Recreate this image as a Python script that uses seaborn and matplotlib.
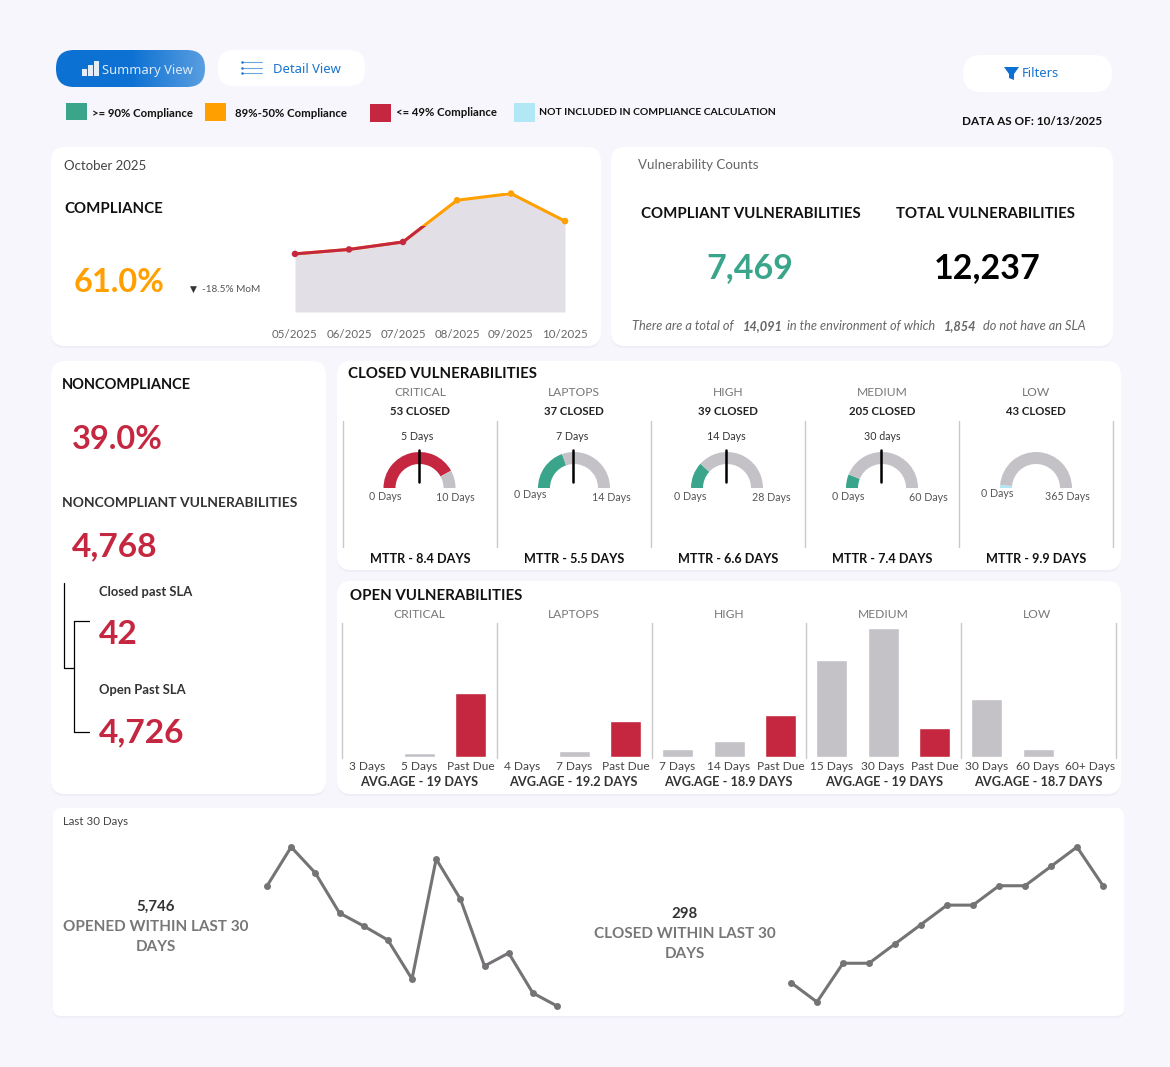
import numpy as np
import pandas as pd
import matplotlib
matplotlib.use("Agg")
import matplotlib.pyplot as plt
from matplotlib.patches import FancyBboxPatch, Rectangle, Polygon
import seaborn as sns

GREEN, ORANGE, RED = "#3BA58B", "#FF9F00", "#C4273F"
GRAY, LBLUE, BG = "#C4C2C7", "#B2E8F5", "#F6F6FC"
FONT = "Lato"
W, H = 1170, 1067

months = ["05/2025", "06/2025", "07/2025", "08/2025", "09/2025", "10/2025"]
compliance = [39, 42, 47, 75, 79.5, 61]

gauge_names = ["CRITICAL", "LAPTOPS", "HIGH", "MEDIUM", "LOW"]
gauge_closed = [53, 37, 39, 205, 43]
gauge_mttr = [8.4, 5.5, 6.6, 7.4, 9.9]
gauge_max = [10, 14, 28, 60, 365]
gauge_target = [5, 7, 14, 30, None]
gauge_target_text = ["5 Days", "7 Days", "14 Days", "30 days", ""]
gauge_colors = [RED, GREEN, GREEN, GREEN, LBLUE]

open_days = [["3 Days", "5 Days", "Past Due"], ["4 Days", "7 Days", "Past Due"],
             ["7 Days", "14 Days", "Past Due"], ["15 Days", "30 Days", "Past Due"],
             ["30 Days", "60 Days", "60+ Days"]]
open_counts = [[0, 3, 63], [0, 5, 35], [7, 15, 41], [96, 128, 28], [57, 7, 0]]
open_age = ["19", "19.2", "18.9", "19", "18.7"]

opened_30 = [560, 677, 599, 479, 440, 398, 281, 641, 521, 320, 359, 239, 200]
closed_30 = [19, 18, 20, 20, 21, 22, 23, 23, 24, 24, 25, 26, 24]

sns.set_theme(style="white")
plt.rcParams["font.family"] = [FONT, "DejaVu Sans"]
fig = plt.figure(figsize=(W / 100, H / 100), dpi=100, facecolor=BG)
base = fig.add_axes([0, 0, 1, 1], zorder=0)
base.set_xlim(0, W); base.set_ylim(H, 0); base.axis("off")


def px_axes(x0, y0, x1, y1):
    ax = fig.add_axes([x0 / W, 1 - y1 / H, (x1 - x0) / W, (y1 - y0) / H], zorder=2)
    ax.patch.set_alpha(0)
    sns.despine(ax=ax, left=True, bottom=True)
    return ax


def T(x, y, s, px=12, color="#333333", ha="left", weight="normal", style="normal", family=None):
    base.text(x, y + 1.2, s, fontsize=px * 0.72, color=color, ha=ha, va="center", fontweight=weight,
              fontstyle=style, family=family or [FONT, "DejaVu Sans"])


def card(x0, y0, x1, y1, r=14, fc="white", shadow=True):
    if shadow:
        base.add_patch(FancyBboxPatch((x0 + r, y0 + r + 2), x1 - x0 - 2 * r, y1 - y0 - 2 * r,
                                      boxstyle=f"round,pad={r},rounding_size={r}", fc="#EEEEF6", ec="none"))
    p = FancyBboxPatch((x0 + r, y0 + r), x1 - x0 - 2 * r, y1 - y0 - 2 * r,
                       boxstyle=f"round,pad={r},rounding_size={r}", fc=fc, ec="none")
    base.add_patch(p)
    return p


for c in [(51, 147, 601, 346), (611, 147, 1113, 346), (51, 361, 326, 794),
          (337, 361, 1121, 570), (337, 581, 1121, 794)]:
    card(*c)
card(53, 808, 1124, 1016, r=8)

# buttons
btn = card(56, 50, 205, 87, r=18, shadow=False)
grad = base.imshow(np.linspace(0, 1, 256).reshape(1, -1), extent=(56, 205, 87, 50), aspect="auto",
                   cmap=matplotlib.colors.LinearSegmentedColormap.from_list("b", ["#0C71D3", "#0C71D3", "#5A9EE0"]), zorder=1.5)
grad.set_clip_path(btn)
base.set_xlim(0, W); base.set_ylim(H, 0)
card(218, 50, 365, 86, r=16, shadow=False)
card(963, 55, 1112, 92, r=18, shadow=False)
for bx, by, bw, bh in [(82, 69, 5, 7), (88, 65, 5, 11), (94, 61, 5, 15)]:
    base.add_patch(Rectangle((bx, by), bw, bh, fc="#E4EEF9", ec="none", zorder=3))
T(102, 69, "Summary View", 13, "#DCE9F8", family="Noto Sans")
for ly in [62, 67.5, 73]:
    base.plot([242, 262], [ly, ly], color="#6AA6E2", lw=0.8)
    base.plot([242], [ly], "o", ms=1.8, mew=0, color="#1874CD")
T(273, 68, "Detail View", 13, "#1874CD", family="Noto Sans")
base.add_patch(Polygon([(1004, 67), (1019, 67), (1014, 74), (1014, 80), (1009, 78), (1009, 74)], fc="#0C71D3", ec="none"))
T(1022, 72, "Filters", 13, "#1874CD", family="Noto Sans")

# legend
for lx, ly, lw, lh, col in [(66, 103, 21, 17, GREEN), (205, 103, 21, 18, ORANGE),
                            (370, 104, 21, 18, RED), (514, 103, 21, 19, LBLUE)]:
    base.add_patch(Rectangle((lx, ly), lw, lh, fc=col, ec="none"))
T(92, 112.5, ">= 90% Compliance", 11.4, "#111111", weight="bold")
T(235, 112.5, "89%-50% Compliance", 11.4, "#111111", weight="bold")
T(396, 111.5, "<= 49% Compliance", 11.4, "#111111", weight="bold")
T(539, 111.5, "NOT INCLUDED IN COMPLIANCE CALCULATION", 10.4, "#111111", weight="bold")
T(962, 120, "DATA AS OF: 10/13/2025", 11.7, "#111111", weight="bold")

# compliance card
T(64, 165, "October 2025", 13.3, "#444444")
T(64, 207.5, "COMPLIANCE", 15, "#111111", weight="bold")
T(74, 281.5, "61.0%", 32.5, ORANGE, weight="bold")
T(190, 288, "▼", 9, "#333333", family="DejaVu Sans")
T(202, 288, "-18.5% MoM", 10, "#555555")

comp = pd.DataFrame({"month": np.arange(len(months)), "value": compliance})
ax = px_axes(295, 192.8, 565, 312)
ax.fill_between(comp["month"], comp["value"], color="#E2E0E6", lw=0)
sns.lineplot(data=comp, x="month", y="value", color=ORANGE, lw=2.2, ax=ax)
sns.lineplot(data=comp, x="month", y="value", color=RED, lw=2.2, ax=ax)
ax.set_xlim(0, 5); ax.set_ylim(0, 80)
ax.lines[-1].set_clip_path(Rectangle((0, 0), 5, 58, transform=ax.transData))
comp["band"] = ["low" if v < 50 else "mid" for v in compliance]
sns.scatterplot(data=comp, x="month", y="value", hue="band", palette={"low": RED, "mid": ORANGE},
                s=22, linewidth=0, legend=False, clip_on=False, zorder=5, ax=ax)
ax.set_xticks(comp["month"], months)
ax.tick_params(axis="x", length=0, pad=12, labelsize=8.3, labelcolor="#666666")
ax.set_yticks([]); ax.set_xlabel(""); ax.set_ylabel("")

# counts card
T(638, 164, "Vulnerability Counts", 13.4, "#666666")
T(751, 212.5, "COMPLIANT VULNERABILITIES", 15, "#111111", "center", "bold")
T(986, 212.5, "TOTAL VULNERABILITIES", 15, "#111111", "center", "bold")
T(750, 267, "7,469", 34, GREEN, "center", "bold")
T(987, 267, "12,237", 34, "#000000", "center", "bold")
for fx, fs, fw in [(632, "There are a total of", "normal"), (743, "14,091", "bold"),
                   (787, "in the environment of which", "normal"), (944, "1,854", "bold"),
                   (983, "do not have an SLA", "normal")]:
    T(fx, 325, fs, 12.7, "#666666", weight=fw, style="italic")

# noncompliance card
T(62, 383.5, "NONCOMPLIANCE", 14.6, "#111111", weight="bold")
T(72, 438.5, "39.0%", 32.5, RED, weight="bold")
T(62, 501.5, "NONCOMPLIANT VULNERABILITIES", 13.9, "#333333", weight="bold")
T(72, 545.5, "4,768", 33.5, RED, weight="bold")
T(99, 591, "Closed past SLA", 13, "#333333", weight="bold")
T(99, 633.5, "42", 33.5, RED, weight="bold")
T(99, 689, "Open Past SLA", 13, "#333333", weight="bold")
T(99, 731.5, "4,726", 33.5, RED, weight="bold")
base.plot([64, 64, 74], [583, 668, 668], color="black", lw=0.9)
base.plot([89, 73.5, 73.5, 89], [621, 621, 732, 732], color="black", lw=0.9)

# closed gauges
T(348, 372.5, "CLOSED VULNERABILITIES", 15, "#111111", weight="bold")
gauge_cx = [419.5, 574, 727, 882, 1036]
gauge_label_cx = [420, 574, 728, 882, 1036]
low_labels = [(385, 495), (530, 493), (690, 495), (848, 495), (997, 492)]
high_labels = [(455, 496), (611, 496), (771, 496), (928, 496), (1067, 495)]
target_cx = [417, 572, 726, 882, 0]
for sx in [343, 497, 651, 805, 959, 1113]:
    base.plot([sx, sx], [421, 547], color="#C9C9C9", lw=1)
for i, name in enumerate(gauge_names):
    T(gauge_label_cx[i], 391, name, 12, "#777777", "center")
    T(gauge_label_cx[i], 410.5, f"{gauge_closed[i]} CLOSED", 11.4, "#222222", "center", "bold")
    T(gauge_label_cx[i], 558, f"MTTR - {gauge_mttr[i]} DAYS", 12.6, "#111111", "center", "bold")
    if gauge_target[i] is not None:
        T(target_cx[i], 435, gauge_target_text[i], 10.6, "#333333", "center")
    T(*low_labels[i], "0 Days", 10.6, "#555555", "center")
    T(*high_labels[i], f"{gauge_max[i]} Days", 10.6, "#555555", "center")
    cx = gauge_cx[i]
    ax = px_axes(cx - 42, 446, cx + 42, 530)
    ax.pie([gauge_mttr[i], gauge_max[i] - gauge_mttr[i], gauge_max[i]], radius=36, startangle=180,
           counterclock=False, colors=[gauge_colors[i], GRAY, "none"],
           wedgeprops=dict(width=12, linewidth=0))
    ax.set_xlim(-42, 42); ax.set_ylim(-42, 42)
    if gauge_target[i] is not None:
        tx = -37 * np.cos(np.pi * gauge_target[i] / gauge_max[i]) - 0.7
        ax.plot([tx, tx], [6, 38], color="black", lw=1.8, clip_on=False)

# open bars
T(350, 594.5, "OPEN VULNERABILITIES", 15, "#111111", weight="bold")
bar_left = [341.5, 496.5, 651.5, 805.5, 960.5]
bar_cat_cx = [419, 574, 729, 883, 1037]
age_cx = [419, 573, 728, 884, 1038]
for sx in [341.5, 497, 652, 806, 961, 1115.5]:
    base.plot([sx, sx], [623, 758], color="#C9C9C9", lw=1)
for i, name in enumerate(gauge_names):
    df = pd.DataFrame({"days": open_days[i], "count": open_counts[i]})
    pal = {d: (RED if d == "Past Due" else GRAY) for d in open_days[i]}
    ax = px_axes(bar_left[i], 628, bar_left[i] + 155, 756.5)
    sns.barplot(data=df, x="days", y="count", hue="days", palette=pal, order=open_days[i],
                width=0.6, legend=False, saturation=1, ax=ax)
    ax.set_ylim(0, 128); ax.set_yticks([]); ax.set_xlabel(""); ax.set_ylabel("")
    ax.tick_params(axis="x", length=0, pad=3, labelsize=8.6, labelcolor="#444444")
    T(bar_cat_cx[i], 613, name, 12, "#777777", "center")
    T(age_cx[i], 781, f"AVG.AGE - {open_age[i]} DAYS", 12.7, "#333333", "center", "bold")

# last 30 days
T(63, 820, "Last 30 Days", 11.5, "#444444")
T(156, 906, "5,746", 15, "#333333", "center", "bold")
T(156, 926, "OPENED WITHIN LAST 30", 15.2, "#777777", "center", "bold")
T(156, 946, "DAYS", 15.2, "#777777", "center", "bold")
T(685, 913, "298", 15, "#333333", "center", "bold")
T(685, 933, "CLOSED WITHIN LAST 30", 15.2, "#777777", "center", "bold")
T(685, 953, "DAYS", 15.2, "#777777", "center", "bold")

for vals, x0, x1, y0, y1 in [(opened_30, 267, 557, 847, 1006), (closed_30, 791, 1103, 847, 1002)]:
    df = pd.DataFrame({"day": np.arange(len(vals)), "value": vals})
    ax = px_axes(x0, y0, x1, y1)
    sns.lineplot(data=df, x="day", y="value", color="#757375", lw=2.2, marker="o", ms=5,
                 mew=0, clip_on=False, ax=ax)
    ax.set_xlim(0, len(vals) - 1); ax.set_ylim(min(vals), max(vals))
    ax.set_xticks([]); ax.set_yticks([]); ax.set_xlabel(""); ax.set_ylabel("")

fig.savefig("out.png", dpi=100, facecolor=BG)
